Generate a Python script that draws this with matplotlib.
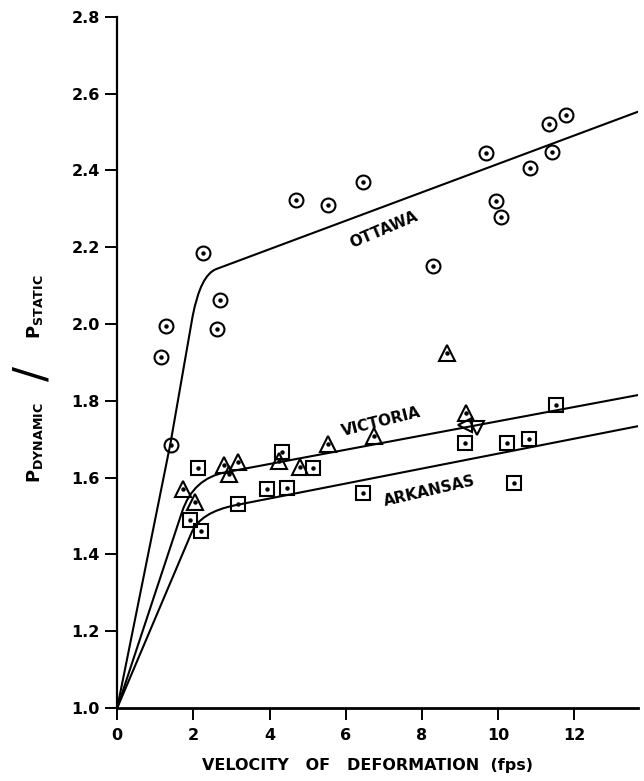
import matplotlib
matplotlib.use('Agg')
import matplotlib.pyplot as plt
from matplotlib.path import Path
from matplotlib.patches import PathPatch

# measured points (velocity fps, P dynamic / P static)
ottawa_v = [1.15, 1.29, 1.41, 2.24, 2.62, 2.71, 4.69, 5.54, 6.45, 8.30,
            9.68, 9.95, 10.07, 10.83, 11.35, 11.41, 11.79]
ottawa_r = [1.915, 1.995, 1.685, 2.186, 1.987, 2.063, 2.322, 2.309, 2.370, 2.152,
            2.446, 2.320, 2.278, 2.406, 2.522, 2.449, 2.543]

victoria_v = [1.73, 2.04, 2.81, 2.93, 3.16, 4.26, 4.80, 5.54, 6.74, 8.66, 9.17]
victoria_r = [1.570, 1.537, 1.633, 1.610, 1.641, 1.643, 1.627, 1.688, 1.708, 1.924, 1.769]
victoria_left_v = [9.12]
victoria_left_r = [1.738]
victoria_down_v = [9.45]
victoria_down_r = [1.728]

arkansas_v = [1.90, 2.13, 2.20, 3.18, 3.94, 4.34, 4.47, 5.14, 6.45,
              9.13, 10.24, 10.42, 10.81, 11.52]
arkansas_r = [1.489, 1.626, 1.462, 1.532, 1.570, 1.667, 1.574, 1.626, 1.560,
              1.690, 1.690, 1.585, 1.700, 1.790]

# fitted curves: straight rise, rounded knee (quadratic bezier), straight tail
ottawa_curve_v = [0, 1.40, 1.98, 2.19, 2.60, 13.68]
ottawa_curve_r = [1.0, 1.69, 2.02, 2.128, 2.143, 2.553]
victoria_curve_v = [0, 1.70, 1.99, 2.85, 13.68]
victoria_curve_r = [1.0, 1.51, 1.598, 1.614, 1.815]
arkansas_curve_v = [0, 1.95, 2.18, 3.10, 13.68]
arkansas_curve_r = [1.0, 1.456, 1.510, 1.528, 1.734]

plt.rcParams['font.family'] = 'DejaVu Sans'
plt.rcParams['font.weight'] = 'bold'
plt.rcParams['mathtext.fontset'] = 'dejavusans'

fig = plt.figure(figsize=(6.44, 7.81), dpi=100)
ax = fig.add_axes([0.182, 0.0935, 0.809, 0.885])

def curve(vs, rs, codes):
    p = Path(list(zip(vs, rs)), codes)
    ax.add_patch(PathPatch(p, fill=False, lw=1.5, color='black'))

curve(ottawa_curve_v, ottawa_curve_r,
      [Path.MOVETO, Path.LINETO, Path.LINETO, Path.CURVE3, Path.CURVE3, Path.LINETO])
curve(victoria_curve_v, victoria_curve_r,
      [Path.MOVETO, Path.LINETO, Path.CURVE3, Path.CURVE3, Path.LINETO])
curve(arkansas_curve_v, arkansas_curve_r,
      [Path.MOVETO, Path.LINETO, Path.CURVE3, Path.CURVE3, Path.LINETO])

mk = dict(linestyle='none', markerfacecolor='none', markeredgecolor='black',
          markeredgewidth=1.5)
ax.plot(ottawa_v, ottawa_r, marker='o', markersize=10, **mk)
ax.plot(victoria_v, victoria_r, marker='^', markersize=11, **mk)
ax.plot(victoria_left_v, victoria_left_r, marker='<', markersize=10, **mk)
ax.plot(victoria_down_v, victoria_down_r, marker='v', markersize=10, **mk)
ax.plot(arkansas_v, arkansas_r, marker='s', markersize=10, **mk)
# centre dots
for v, r in [(ottawa_v, ottawa_r), (victoria_v, victoria_r), (arkansas_v, arkansas_r)]:
    ax.plot(v, r, linestyle='none', marker='o', markersize=2.2, color='black')

ax.text(6.99, 2.245, 'OTTAWA', rotation=23, ha='center', va='center',
        rotation_mode='anchor', fontsize=11, fontweight='bold')
ax.text(6.93, 1.745, 'VICTORIA', rotation=14, ha='center', va='center',
        rotation_mode='anchor', fontsize=11, fontweight='bold')
ax.text(8.21, 1.566, 'ARKANSAS', rotation=13, ha='center', va='center',
        rotation_mode='anchor', fontsize=11, fontweight='bold')

ax.set_xlim(0, 13.68)
ax.set_ylim(1.0, 2.8)
ax.set_xticks([0, 2, 4, 6, 8, 10, 12])
ax.set_yticks([1.0, 1.2, 1.4, 1.6, 1.8, 2.0, 2.2, 2.4, 2.6, 2.8])
ax.set_yticklabels(['1.0', '1.2', '1.4', '1.6', '1.8', '2.0', '2.2', '2.4', '2.6', '2.8'])
ax.spines['top'].set_visible(False)
ax.spines['right'].set_visible(False)
ax.spines['left'].set_linewidth(1.6)
ax.spines['bottom'].set_linewidth(2.0)
ax.tick_params(direction='out', length=8.5, width=1.4, labelsize=11.5)
ax.tick_params(axis='y', pad=4)
ax.tick_params(axis='x', pad=6)
for lab in ax.get_xticklabels() + ax.get_yticklabels():
    lab.set_fontweight('bold')

fig.text(0.571, 0.02, 'VELOCITY   OF   DEFORMATION  (fps)', ha='center', va='center',
         fontsize=11.5, fontweight='bold')
fig.text(0.055, 0.433, r'$\mathbf{P}_{\mathbf{DYNAMIC}}$', rotation=90,
         ha='center', va='center', fontsize=13)
fig.text(0.052, 0.522, '/', rotation=90, ha='center', va='center',
         fontsize=32, fontweight='normal')
fig.text(0.055, 0.607, r'$\mathbf{P}_{\mathbf{STATIC}}$', rotation=90,
         ha='center', va='center', fontsize=13)

fig.savefig('out.png', dpi=100)
